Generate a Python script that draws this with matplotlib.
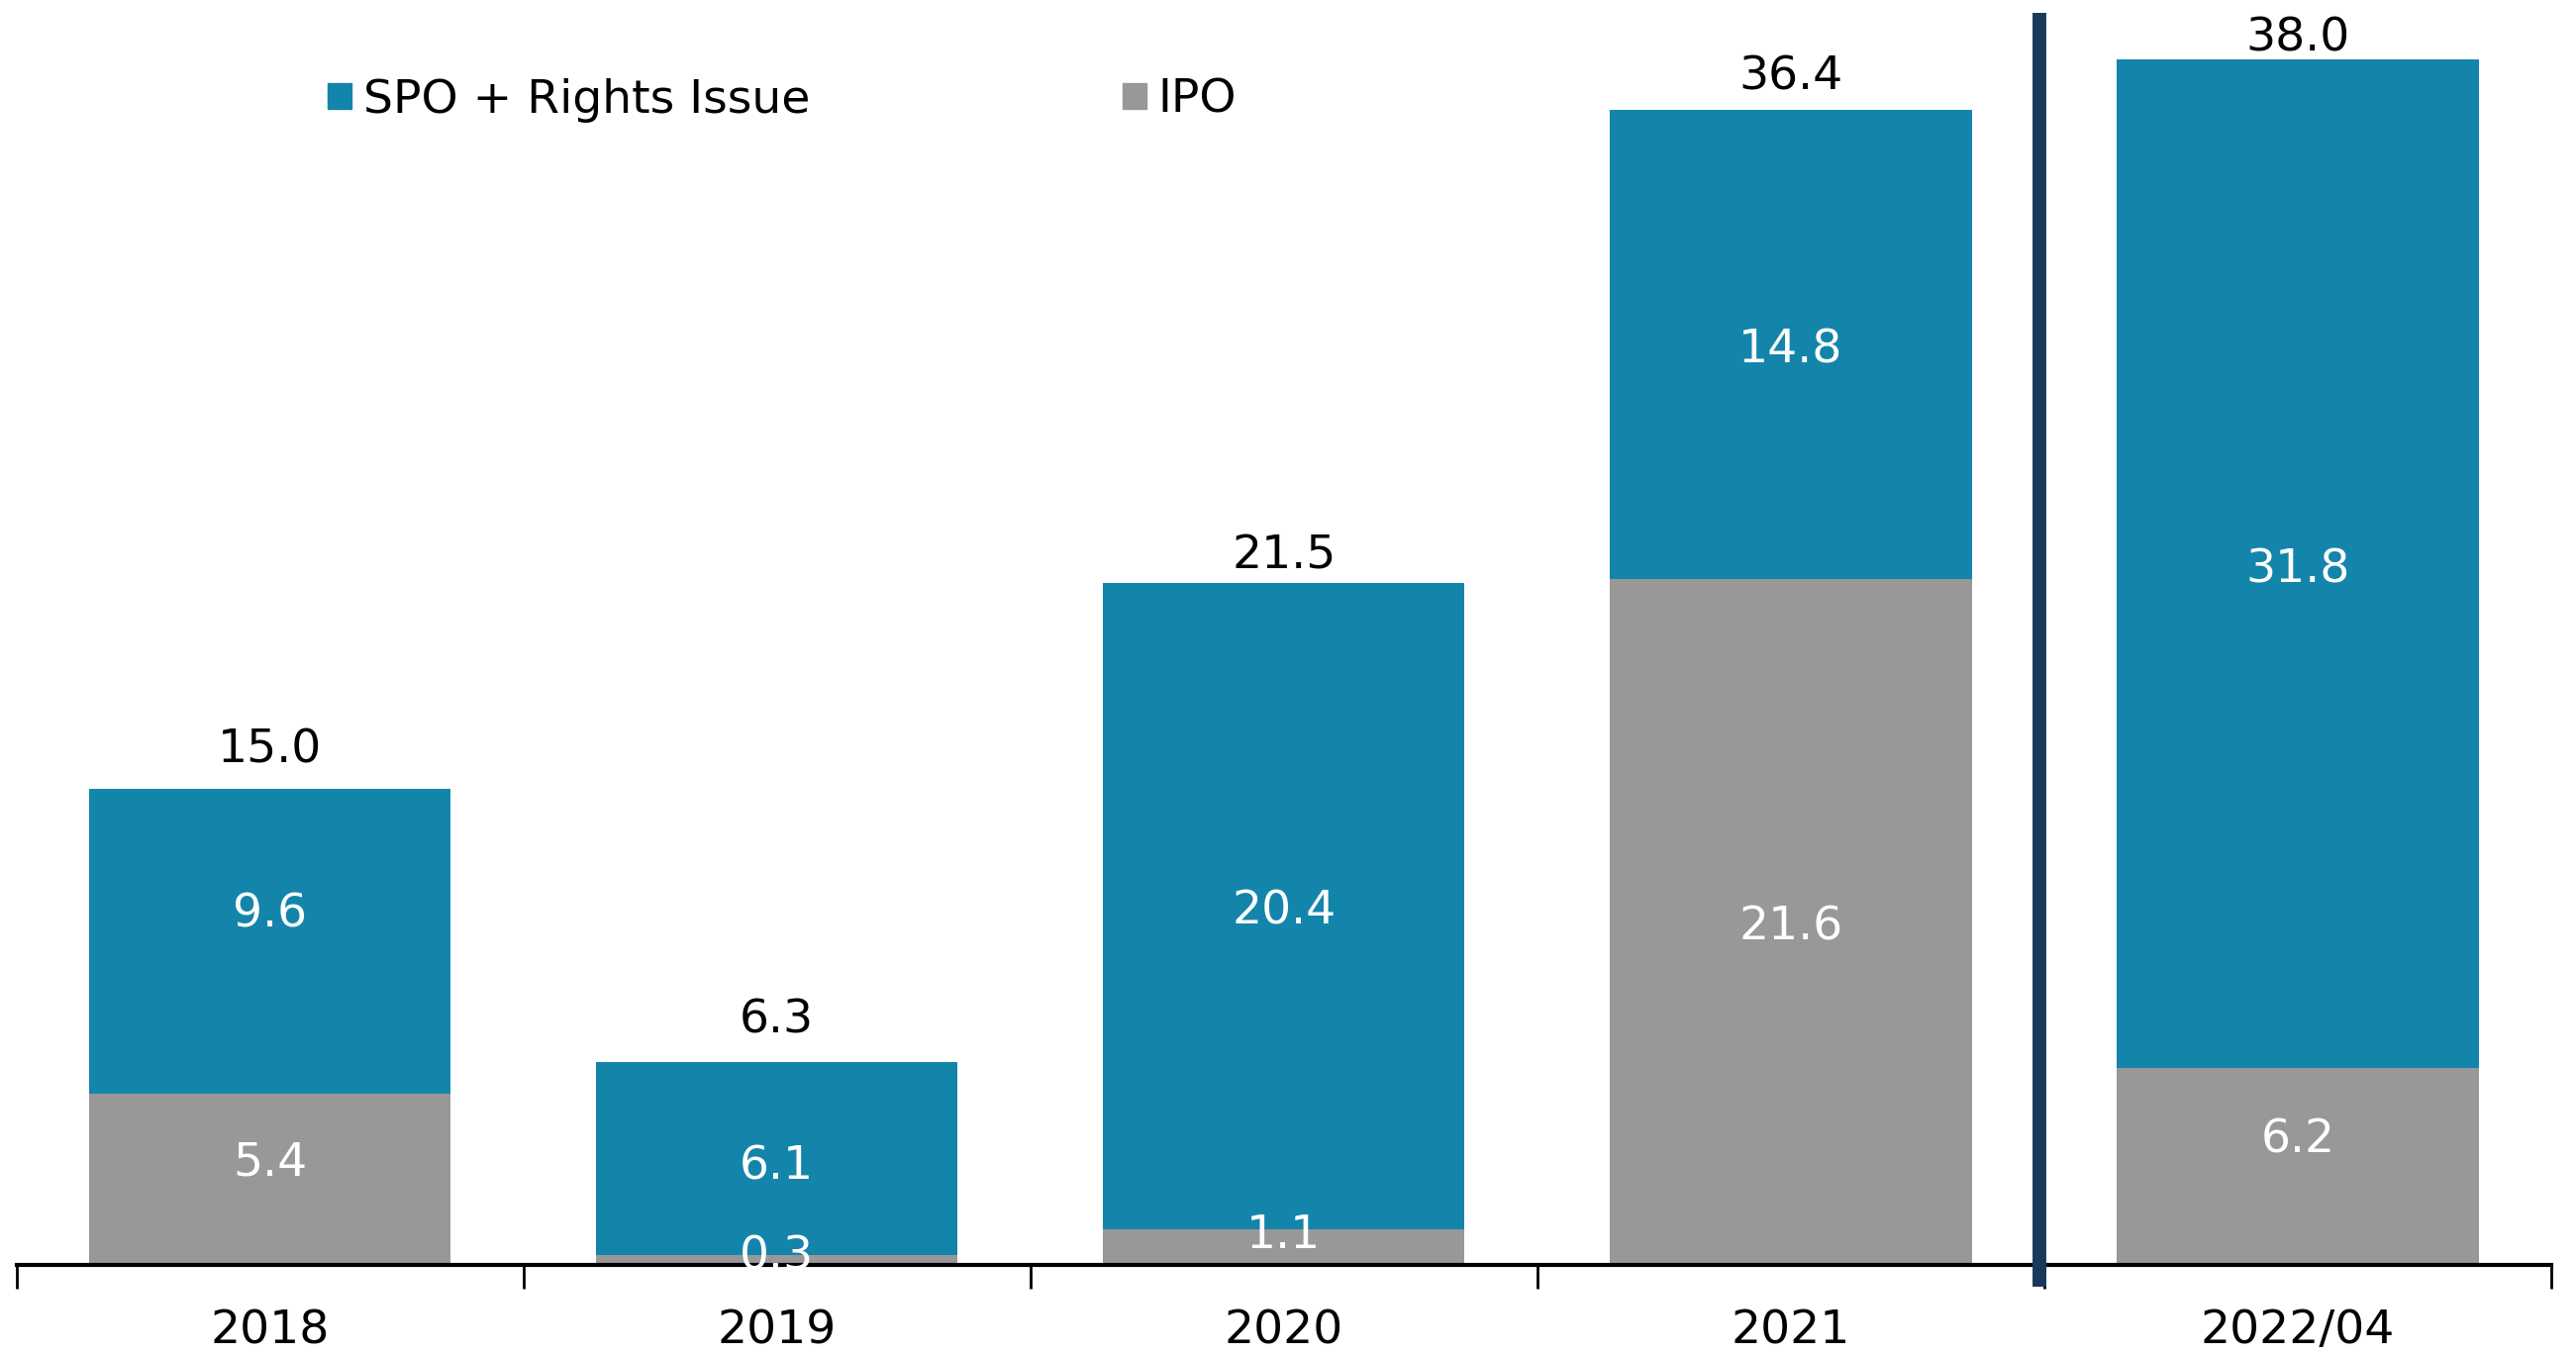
import matplotlib
matplotlib.use("Agg")
import matplotlib.pyplot as plt
from matplotlib.patches import Rectangle
import numpy as np

categories = ["2018", "2019", "2020", "2021", "2022/04"]
ipo = [5.4, 0.3, 1.1, 21.6, 6.2]
spo = [9.6, 6.1, 20.4, 14.8, 31.8]
totals = [15.0, 6.3, 21.5, 36.4, 38.0]
series_names = ["SPO + Rights Issue", "IPO"]

# label nudges (points) to mimic the original label placement
ipo_nudge = [12, 2, 8, -4, 19]
spo_nudge = [19, -6, -4, -4, -5]
tot_nudge = [28, 30, 19, 24, 15]

TEAL = "#1485AA"
GRAY = "#989898"
NAVY = "#173A5A"

plt.rcParams['font.family'] = ['DejaVu Sans']

fig = plt.figure(figsize=(26.02, 13.69), dpi=100)
ax = fig.add_axes([10/1568, 55/825, (1553-10)/1568, 770/825])

x = np.arange(len(categories))
w = 0.713
ax.bar(x, ipo, width=w, color=GRAY, zorder=2)
ax.bar(x, spo, width=w, bottom=ipo, color=TEAL, zorder=2)

ax.set_xlim(-0.5, len(categories) - 0.5)
ax.set_ylim(0, 39.86)

fs = 34
for i in range(len(categories)):
    ax.annotate(f"{ipo[i]:.1f}", (x[i], ipo[i] / 2), xytext=(0, ipo_nudge[i]),
                textcoords="offset points", ha="center", va="center",
                color="white", fontsize=fs, zorder=3)
    ax.annotate(f"{spo[i]:.1f}", (x[i], ipo[i] + spo[i] / 2), xytext=(0, spo_nudge[i]),
                textcoords="offset points", ha="center", va="center",
                color="white", fontsize=fs, zorder=3)
    ax.annotate(f"{totals[i]:.1f}", (x[i], ipo[i] + spo[i]), xytext=(0, tot_nudge[i]),
                textcoords="offset points", ha="center", va="center",
                color="black", fontsize=fs, zorder=3, annotation_clip=False)

# divider line
ax.plot([3.49, 3.49], [-0.68, 39.45], color=NAVY, lw=10, clip_on=False,
        solid_capstyle="butt", zorder=4)

for s in ["top", "right", "left"]:
    ax.spines[s].set_visible(False)
ax.spines["bottom"].set_linewidth(3)
ax.set_yticks([])
ax.set_xticks(np.arange(-0.5, len(categories), 1.0), minor=False)
ax.set_xticklabels([])
ax.tick_params(axis="x", which="major", direction="out", length=17, width=2)
ax.set_xticks(x, minor=True)
ax.set_xticklabels(categories, minor=True, fontsize=fs)
ax.tick_params(axis="x", which="minor", length=0, pad=32)

# legend
handles = [Rectangle((0, 0), 1, 1, color=TEAL), Rectangle((0, 0), 1, 1, color=GRAY)]
leg = fig.legend(handles, series_names, loc="center left",
                 bbox_to_anchor=(174/1568, 1 - 61/825), ncol=2, frameon=False,
                 fontsize=fs, handlelength=0.5, handleheight=0.5,
                 handletextpad=0.25, columnspacing=6.7)

fig.savefig("out.png", dpi=100)
